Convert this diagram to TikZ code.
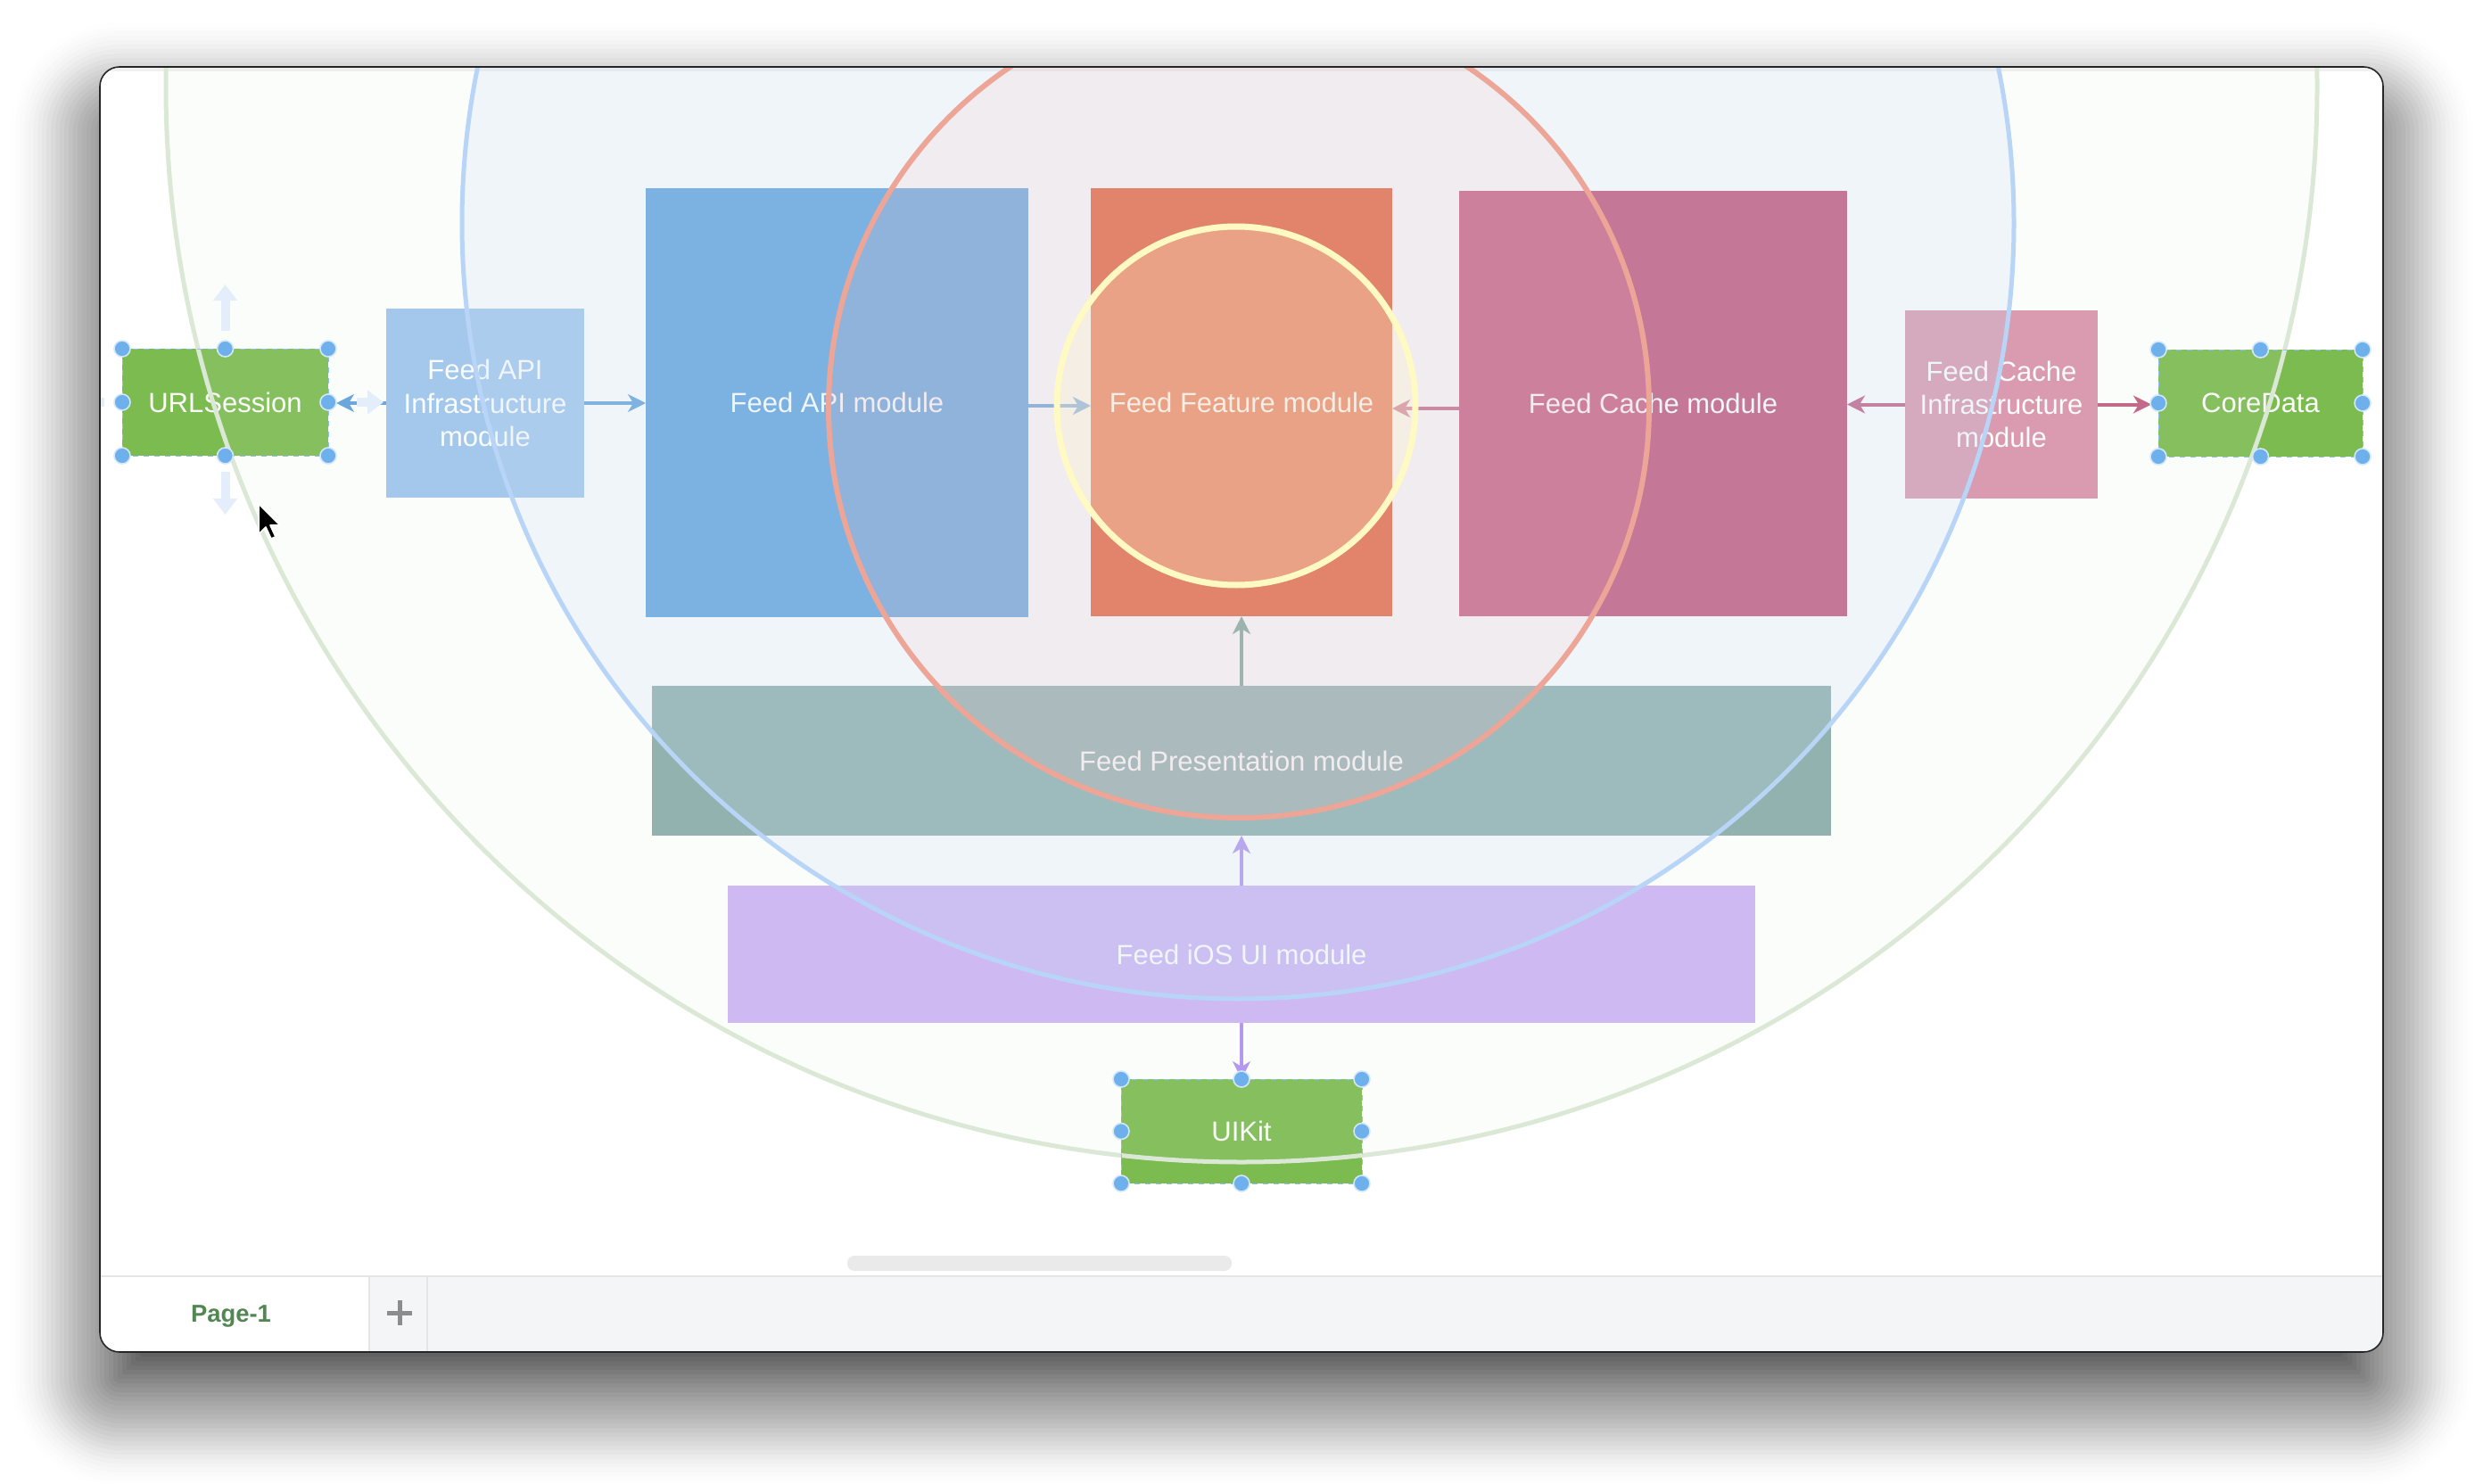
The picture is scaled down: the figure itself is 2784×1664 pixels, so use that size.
\documentclass[tikz,border=0pt]{standalone}
\usepackage{fontspec}
\setmainfont{Liberation Sans}
\usetikzlibrary{arrows.meta}
\definecolor{cURL}{RGB}{124,187,80}
\definecolor{cAPI}{RGB}{91,159,223}
\definecolor{cAPIinf}{RGB}{158,196,238}
\definecolor{cFeat}{RGB}{228,80,35}
\definecolor{cCache}{RGB}{193,75,116}
\definecolor{cCacheInf}{RGB}{218,146,172}
\definecolor{cPres}{RGB}{138,172,170}
\definecolor{cIOS}{RGB}{205,179,246}
\definecolor{cBlueArr}{RGB}{95,159,220}
\definecolor{cPinkArr}{RGB}{192,90,129}
\definecolor{cGrayArr}{RGB}{115,159,147}
\definecolor{cLavArr}{RGB}{176,145,242}
\definecolor{cGreenFill}{RGB}{225,238,220}
\definecolor{cBlueFill}{RGB}{197,219,243}
\definecolor{cRedFill}{RGB}{255,186,183}
\definecolor{cYelFill}{RGB}{255,244,204}
\definecolor{cGreenLine}{RGB}{220,232,214}
\definecolor{cBlueLine}{RGB}{184,212,246}
\definecolor{cRedLine}{RGB}{236,165,150}
\definecolor{cYelLine}{RGB}{255,250,195}
\definecolor{cHandle}{RGB}{110,176,236}
\definecolor{cSel}{RGB}{141,192,240}
\definecolor{cHint}{RGB}{228,238,250}
\definecolor{cTab}{RGB}{244,245,247}
\definecolor{cTabLine}{RGB}{228,229,231}
\definecolor{cPage}{RGB}{82,135,82}
\definecolor{cPlus}{RGB}{140,140,140}
\definecolor{cScroll}{RGB}{234,234,234}
\definecolor{cText}{RGB}{255,255,255}
\begin{document}
\begin{tikzpicture}[x=0.5pt,y=-0.5pt,
  mod/.style={rectangle, inner sep=0pt, outer sep=0pt, anchor=north west, text=cText,
    font=\fontsize{15.5}{18.6}\selectfont, align=center},
  arr/.style={line width=2pt, -{Stealth[length=10pt,width=10pt,inset=3pt]}},
  handle/.style={fill=cHandle, draw=white!70!cHandle, line width=0.8pt},
  selbox/.style={draw=cSel, dashed, line width=0.5pt},
  hint/.style={draw=cHint, line width=5pt, -{Triangle[length=9pt,width=13pt]}},
  ring/.style={line width=2.5pt}]
\useasboundingbox (0,0) rectangle (2784,1664);
\fill[white] (0,0) rectangle (2784,1664);
% window shadow
\foreach \e/\o in {100/.004,95/.006,90/.008,85/.01,80/.012,75/.015,70/.018,65/.02,60/.022,55/.024,50/.026,45/.027,40/.027,35/.027,30/.027,25/.027,20/.027,15/.028,10/.029,5/.03,0/.032,-5/.035,-10/.038,-15/.042,-20/.045,-25/.048,-30/.05,-35/.052,-40/.052,-45/.05}{
  \pgfmathsetmacro{\rr}{max(22+(\e),2)/2}
  \fill[black, fill opacity=\o, rounded corners=\rr pt] ({112-(\e)},{125-(\e)}) rectangle ({2672+(\e)},{1566+(\e)});
}
% window
\fill[white, rounded corners=11pt] (112,75) rectangle (2672,1516);
\begin{scope}
\clip[rounded corners=11pt] (112,75) rectangle (2672,1516);
\fill[black!6] (112,75) rectangle (2672,80);
% modules
\node[mod, fill=cURL, minimum width=115.5pt, minimum height=60pt] (urls) at (137,391) {URLSession};
\node[mod, fill=cAPIinf, minimum width=111pt, minimum height=106pt] (apiinfra) at (433,346) {Feed API\\Infrastructure\\module};
\node[mod, fill=cAPI, minimum width=214.5pt, minimum height=240.5pt] (api) at (724,211) {Feed API module};
\node[mod, fill=cFeat, minimum width=169pt, minimum height=240pt] (feature) at (1223,211) {Feed Feature module};
\node[mod, fill=cCache, minimum width=217.5pt, minimum height=238.5pt] (cache) at (1636,214) {Feed Cache module};
\node[mod, fill=cCacheInf, minimum width=108pt, minimum height=105.5pt] (cacheinfra) at (2136,348) {Feed Cache\\Infrastructure\\module};
\node[mod, fill=cURL, minimum width=114.5pt, minimum height=60pt] (coredata) at (2420,392) {CoreData};
\node[mod, fill=cPres, minimum width=661pt, minimum height=84pt] (pres) at (731,769) {Feed Presentation module};
\node[mod, fill=cIOS, minimum width=576pt, minimum height=77pt] (ios) at (816,993) {Feed iOS UI module};
\node[mod, fill=cURL, minimum width=135pt, minimum height=58.5pt] (uikit) at (1257,1210) {UIKit};
% connectors
\coordinate (pa) at ([yshift=-1.75pt]api.east);
\coordinate (pc) at ([yshift=-2.75pt]cache.west);
\draw[arr, cBlueArr, shorten >=4.5pt] (apiinfra.west) -- (apiinfra.west -| urls.east);
\draw[arr, cBlueArr] (apiinfra.east) -- (apiinfra.east -| api.west);
\draw[arr, cBlueArr] (pa) -- (pa -| feature.west);
\draw[arr, cPinkArr] (pc) -- (pc -| feature.east);
\draw[arr, cPinkArr] (cacheinfra.west) -- (cacheinfra.west -| cache.east);
\draw[arr, cPinkArr, shorten >=4pt] (cacheinfra.east) -- (cacheinfra.east -| coredata.west);
\draw[arr, cGrayArr] (pres.north) -- (feature.south);
\draw[arr, cLavArr, line width=1.6pt] (ios.north) -- (pres.south);
\draw[arr, cLavArr, line width=1.6pt] (ios.south) -- (uikit.north);
% rings: translucent fills
\fill[cGreenFill, fill opacity=0.10] (1392,97) circle[radius=603pt];
\fill[cBlueFill, fill opacity=0.22] (1388,250) circle[radius=435pt];
\fill[cRedFill, fill opacity=0.15] (1389,457) circle[radius=230pt];
\fill[cYelFill, fill opacity=0.27] (1386,455) circle[radius=100.5pt];
% rings: strokes
\draw[ring, cGreenLine] (1392,97) circle[radius=603pt];
\draw[ring, cBlueLine] (1388,250) circle[radius=435pt];
\draw[ring, cRedLine, line width=3pt] (1389,457) circle[radius=230pt];
\draw[ring, cYelLine, line width=3.5pt] (1386,455) circle[radius=100.5pt];
% selection outlines and handles
\foreach \n in {urls,coredata,uikit}{
  \draw[selbox] (\n.north west) rectangle (\n.south east);
  \foreach \a in {north west,north,north east,west,east,south west,south,south east}
    \draw[handle] (\n.\a) circle[radius=4.5pt];
}
% hover hints
\draw[hint] ([yshift=10pt]urls.north) -- ([yshift=36pt]urls.north);
\draw[hint] ([yshift=-9pt]urls.south) -- ([yshift=-33pt]urls.south);
\draw[hint] ([xshift=16pt]urls.east) -- ([xshift=31pt]urls.east);
\draw[hint] ([xshift=-10pt]urls.west) -- ([xshift=-30pt]urls.west);
% cursor
\filldraw[fill=black, draw=white, line width=0.8pt, line join=round] (290,565) -- ++(0,34) -- ++(8,-8) -- ++(6,13) -- ++(5,-2) -- ++(-6,-13) -- ++(11,0) -- cycle;
% scrollbar
\fill[cScroll, rounded corners=4pt] (950,1408) rectangle (1381,1425);
% tab bar
\fill[cTab] (112,1431) rectangle (2672,1516);
\fill[white] (112,1431) rectangle (414,1516);
\draw[cTabLine, line width=1pt] (112,1431) -- (2672,1431);
\draw[cTabLine, line width=0.6pt] (414,1431) -- (414,1516) (479,1431) -- (479,1516);
\node[font=\bfseries\fontsize{13.7}{16}\selectfont, text=cPage] (page1) at (259,1476) {Page-1};
\draw[cPlus, line width=2.5pt] (434,1472) -- (462,1472) (448,1458) -- (448,1486);
\end{scope}
\draw[black!85, line width=0.8pt, rounded corners=11pt] (112,75) rectangle (2672,1516);
\end{tikzpicture}
\end{document}
